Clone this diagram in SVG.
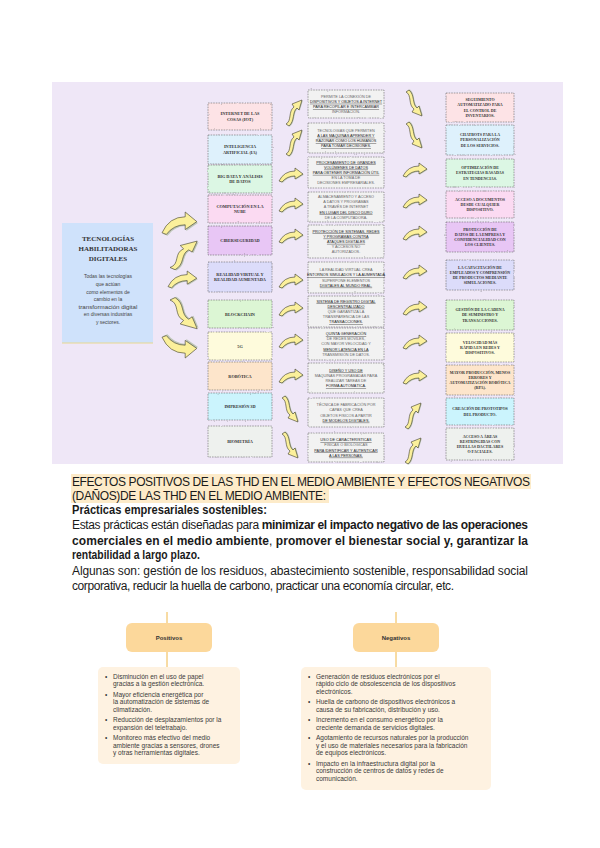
<svg xmlns="http://www.w3.org/2000/svg" width="600" height="848" viewBox="0 0 600 848">
<style>
.bx{stroke:#666;stroke-width:0.6;stroke-dasharray:1.6 1;filter:url(#wv)}
.c2{fill:#f2f2f2}
.t1{font-family:"Liberation Serif",serif;font-weight:bold;font-size:4.3px;fill:#333;text-anchor:middle}
.t2{font-family:"Liberation Sans",sans-serif;font-size:3.8px;fill:#666;text-anchor:middle}
.u{text-decoration:underline;fill:#222}
.t3{font-family:"Liberation Serif",serif;font-weight:bold;font-size:4px;fill:#333;text-anchor:middle}
.fg{fill:#fbf09b;stroke:#3a3a2a;stroke-width:0.6;vector-effect:non-scaling-stroke}
.sh{fill:#a8b79a;opacity:0.7}
.body{font-family:"Liberation Sans",Arial,sans-serif;font-size:12px;fill:#1a1a1a}
.li{font-family:"Liberation Sans",Arial,sans-serif;font-size:6.5px;fill:#3a3a3a}
.hd{font-family:"Liberation Sans",Arial,sans-serif;font-size:6px;font-weight:bold;fill:#333;text-anchor:middle}
.ln{stroke:#f0b848;stroke-width:1;fill:none}
</style>
<defs>
<filter id="wv" x="-10%" y="-15%" width="120%" height="130%">
<feTurbulence type="fractalNoise" baseFrequency="0.3" numOctaves="1" seed="4"/>
<feDisplacementMap in="SourceGraphic" scale="2.2" xChannelSelector="R" yChannelSelector="G"/>
</filter>
<g id="aR">
<path class="sh" transform="translate(0.8,0.8)" d="M0,13 Q5,3 16,3 L16,0 L24,6 L16,11 L16,8 Q8,8 3,14 Z"/>
<path class="fg" d="M0,13 Q5,3 16,3 L16,0 L24,6 L16,11 L16,8 Q8,8 3,14 Z"/>
</g>
<g id="aS">
<path class="sh" transform="translate(0.8,0.8)" d="M0,25 C6,22 2,12 8,8 L6,5 L16,1 L13,11 L11,9 C6,13 9,22 3,27 Z"/>
<path class="fg" d="M0,25 C6,22 2,12 8,8 L6,5 L16,1 L13,11 L11,9 C6,13 9,22 3,27 Z"/>
</g>
</defs>
<rect width="600" height="848" fill="#ffffff"/>
<rect x="52" y="82" width="511" height="382" fill="#efe7f7"/>

<g id="main-node">
<rect x="62" y="223" width="91" height="120" fill="#cfe2fb"/>
<line x1="62" y1="343" x2="153" y2="343" stroke="#e8d890" stroke-width="1.2"/>
<g font-family="Liberation Serif,serif" font-weight="bold" font-size="7px" fill="#333" text-anchor="middle">
<text x="108" y="241">TECNOLOGÍAS</text>
<text x="108" y="251">HABILITADORAS</text>
<text x="108" y="261">DIGITALES</text>
</g>
<g font-family="Liberation Sans,sans-serif" font-size="5px" fill="#444" text-anchor="middle">
<text x="108" y="278">Todas las tecnologías</text>
<text x="108" y="286">que actúan</text>
<text x="108" y="293.5">como elementos de</text>
<text x="108" y="301">cambio en la</text>
<text x="108" y="308.5" font-size="6.2px">transformación digital</text>
<text x="108" y="316">en diversas industrias</text>
<text x="108" y="323.5">y sectores.</text>
</g>
</g>

<g id="connectors">
<use href="#aR" transform="translate(162,212) scale(1.45,1.6)"/>
<use href="#aS" transform="translate(170,240) scale(1.7,1.1)"/>
<use href="#aR" transform="translate(168,271) scale(1.2,1.2)"/>
<use href="#aS" transform="translate(170,330) scale(1.7,-1.2)"/>
<use href="#aR" transform="translate(162,358) scale(1.45,-1.6)"/>

<use href="#aS" transform="translate(286,99)"/>
<use href="#aS" transform="translate(286,129)"/>
<use href="#aR" transform="translate(279,168)"/>
<use href="#aR" transform="translate(279,198)"/>
<use href="#aR" transform="translate(279,229)"/>
<use href="#aR" transform="translate(279,274)"/>
<use href="#aR" transform="translate(279,302)"/>
<use href="#aR" transform="translate(279,334)"/>
<use href="#aR" transform="translate(279,369)"/>
<use href="#aS" transform="translate(282,423) scale(1,-1)"/>
<use href="#aS" transform="translate(282,459) scale(1,-1)"/>

<use href="#aS" transform="translate(406,117) scale(1,-1)"/>
<use href="#aS" transform="translate(406,149) scale(1,-1)"/>
<use href="#aR" transform="translate(403,163)"/>
<use href="#aR" transform="translate(403,194)"/>
<use href="#aR" transform="translate(403,226)"/>
<use href="#aR" transform="translate(403,265)"/>
<use href="#aR" transform="translate(403,301)"/>
<use href="#aR" transform="translate(403,335)"/>
<use href="#aR" transform="translate(403,370)"/>
<use href="#aS" transform="translate(405,402)"/>
<use href="#aS" transform="translate(405,437)"/>

<line x1="167" y1="612" x2="167" y2="623" class="ln"/>
<line x1="167" y1="652" x2="167" y2="667" class="ln"/>
<line x1="396" y1="612" x2="396" y2="623" class="ln"/>
<line x1="396" y1="652" x2="396" y2="667" class="ln"/>
</g>

<!-- column 1 -->
<g id="c1-iot"><rect class="bx" x="208" y="103" width="64" height="27" fill="#fde3e6"/><text class="t1" x="240" y="115.3">INTERNET DE LAS</text><text class="t1" x="240" y="120.8">COSAS (IOT)</text></g>
<g id="c1-ia"><rect class="bx" x="208" y="135" width="64" height="29" fill="#def1fc"/><text class="t1" x="240" y="148.3">INTELIGENCIA</text><text class="t1" x="240" y="153.8">ARTIFICIAL (IA)</text></g>
<g id="c1-bigdata"><rect class="bx" x="208" y="165" width="64" height="28" fill="#dcf7e4"/><text class="t1" x="240" y="177.8">BIG DATA Y ANÁLISIS</text><text class="t1" x="240" y="183.3">DE DATOS</text></g>
<g id="c1-nube"><rect class="bx" x="208" y="195" width="64" height="28" fill="#fbdaf2"/><text class="t1" x="240" y="207.8">COMPUTACIÓN EN LA</text><text class="t1" x="240" y="213.3">NUBE</text></g>
<g id="c1-ciber"><rect class="bx" x="208" y="226" width="64" height="29" fill="#e8c6f5"/><text class="t1" x="240" y="242">CIBERSEGURIDAD</text></g>
<g id="c1-rv"><rect class="bx" x="208" y="262" width="64" height="30" fill="#dcdcfa"/><text class="t1" x="240" y="275.8">REALIDAD VIRTUAL Y</text><text class="t1" x="240" y="281.3">REALIDAD AUMENTADA</text></g>
<g id="c1-blockchain"><rect class="bx" x="208" y="300" width="64" height="28" fill="#dcf6d4"/><text class="t1" x="240" y="315.5">BLOCKCHAIN</text></g>
<g id="c1-5g"><rect class="bx" x="208" y="332" width="64" height="28" fill="#fefbdc"/><text class="t1" x="240" y="347.5">5G</text></g>
<g id="c1-robotica"><rect class="bx" x="208" y="362" width="64" height="28" fill="#fde5cb"/><text class="t1" x="240" y="377.5">ROBÓTICA</text></g>
<g id="c1-3d"><rect class="bx" x="208" y="393" width="64" height="27" fill="#cbf4fd"/><text class="t1" x="240" y="408">IMPRESIÓN 3D</text></g>
<g id="c1-biometria"><rect class="bx" x="208" y="426" width="64" height="31" fill="#eef1ee"/><text class="t1" x="240" y="443">BIOMETRÍA</text></g>

<!-- column 2 -->
<g id="c2-1"><rect class="bx c2" x="308" y="90" width="76" height="28"/>
<text class="t2" x="346" y="97.6">PERMITE LA CONEXIÓN DE</text><text class="t2 u" x="346" y="102.8">DISPOSITIVOS Y OBJETOS A INTERNET</text><text class="t2 u" x="346" y="108">PARA RECOPILAR E INTERCAMBIAR</text><text class="t2" x="346" y="113.2">INFORMACIÓN.</text></g>
<g id="c2-2"><rect class="bx c2" x="308" y="123" width="76" height="30"/>
<text class="t2" x="346" y="131.6">TECNOLOGÍAS QUE PERMITEN</text><text class="t2 u" x="346" y="136.8">A LAS MÁQUINAS APRENDER Y</text><text class="t2 u" x="346" y="142">RAZONAR COMO LOS HUMANOS</text><text class="t2 u" x="346" y="147.2">PARA TOMAR DECISIONES.</text></g>
<g id="c2-3"><rect class="bx c2" x="308" y="157" width="76" height="31"/>
<text class="t2 u" x="346" y="163.5">PROCESAMIENTO DE GRANDES</text><text class="t2 u" x="346" y="168.7">VOLÚMENES DE DATOS</text><text class="t2 u" x="346" y="173.9">PARA OBTENER INFORMACIÓN ÚTIL</text><text class="t2" x="346" y="179.1">EN LA TOMA DE</text><text class="t2" x="346" y="184.3">DECISIONES EMPRESARIALES.</text></g>
<g id="c2-4"><rect class="bx c2" x="308" y="192" width="76" height="30"/>
<text class="t2" x="346" y="198">ALMACENAMIENTO Y ACCESO</text><text class="t2" x="346" y="203.2">A DATOS Y PROGRAMAS</text><text class="t2" x="346" y="208.4">A TRAVÉS DE INTERNET</text><text class="t2 u" x="346" y="213.6">EN LUGAR DEL DISCO DURO</text><text class="t2" x="346" y="218.8">DE LA COMPUTADORA.</text></g>
<g id="c2-5"><rect class="bx c2" x="308" y="225" width="76" height="33"/>
<text class="t2 u" x="346" y="232.5">PROTECCIÓN DE SISTEMAS, REDES</text><text class="t2 u" x="346" y="237.7">Y PROGRAMAS CONTRA</text><text class="t2 u" x="346" y="242.9">ATAQUES DIGITALES</text><text class="t2" x="346" y="248.1">Y ACCESOS NO</text><text class="t2" x="346" y="253.3">AUTORIZADOS.</text></g>
<g id="c2-6"><rect class="bx c2" x="308" y="262" width="76" height="31"/>
<text class="t2" x="346" y="271.1">LA REALIDAD VIRTUAL CREA</text><text class="t2 u" x="346" y="276.3">ENTORNOS SIMULADOS Y LA AUMENTADA</text><text class="t2" x="346" y="281.5">SUPERPONE ELEMENTOS</text><text class="t2 u" x="346" y="286.7">DIGITALES AL MUNDO REAL.</text></g>
<g id="c2-7"><rect class="bx c2" x="308" y="296" width="76" height="31"/>
<text class="t2 u" x="346" y="302.5">SISTEMA DE REGISTRO DIGITAL</text><text class="t2 u" x="346" y="307.7">DESCENTRALIZADO</text><text class="t2" x="346" y="312.9">QUE GARANTIZA LA</text><text class="t2" x="346" y="318.1">TRANSPARENCIA DE LAS</text><text class="t2 u" x="346" y="323.3">TRANSACCIONES.</text></g>
<g id="c2-8"><rect class="bx c2" x="308" y="328" width="76" height="32"/>
<text class="t2 u" x="346" y="335">QUINTA GENERACIÓN</text><text class="t2" x="346" y="340.2">DE REDES MÓVILES,</text><text class="t2" x="346" y="345.4">CON MAYOR VELOCIDAD Y</text><text class="t2 u" x="346" y="350.6">MENOR LATENCIA EN LA</text><text class="t2" x="346" y="355.8">TRANSMISIÓN DE DATOS.</text></g>
<g id="c2-9"><rect class="bx c2" x="308" y="363" width="76" height="30"/>
<text class="t2 u" x="346" y="371.6">DISEÑO Y USO DE</text><text class="t2" x="346" y="376.8">MÁQUINAS PROGRAMADAS PARA</text><text class="t2" x="346" y="382">REALIZAR TAREAS DE</text><text class="t2 u" x="346" y="387.2">FORMA AUTOMÁTICA.</text></g>
<g id="c2-10"><rect class="bx c2" x="308" y="398" width="76" height="29"/>
<text class="t2" x="346" y="406.1">TÉCNICA DE FABRICACIÓN POR</text><text class="t2" x="346" y="411.3">CAPAS QUE CREA</text><text class="t2" x="346" y="416.5">OBJETOS FÍSICOS A PARTIR</text><text class="t2 u" x="346" y="421.7">DE MODELOS DIGITALES.</text></g>
<g id="c2-11"><rect class="bx c2" x="308" y="433" width="76" height="29"/>
<text class="t2 u" x="346" y="441.1">USO DE CARACTERÍSTICAS</text><text class="t2" x="346" y="446.3">FÍSICAS O BIOLÓGICAS</text><text class="t2 u" x="346" y="451.5">PARA IDENTIFICAR Y AUTENTICAR</text><text class="t2 u" x="346" y="456.7">A LAS PERSONAS.</text></g>

<!-- column 3 -->
<g id="c3-1"><rect class="bx" x="446" y="93" width="68" height="29" fill="#fde3e6"/>
<text class="t3" x="480" y="101">SEGUIMIENTO</text><text class="t3" x="480" y="106.3">AUTOMATIZADO PARA</text><text class="t3" x="480" y="111.6">EL CONTROL DE</text><text class="t3" x="480" y="116.9">INVENTARIOS.</text></g>
<g id="c3-2"><rect class="bx" x="446" y="125" width="68" height="30" fill="#def1fc"/>
<text class="t3" x="480" y="136.1">CHATBOTS PARA LA</text><text class="t3" x="480" y="141.4">PERSONALIZACIÓN</text><text class="t3" x="480" y="146.7">DE LOS SERVICIOS.</text></g>
<g id="c3-3"><rect class="bx" x="446" y="159" width="68" height="28" fill="#dcf7e4"/>
<text class="t3" x="480" y="169.1">OPTIMIZACIÓN DE</text><text class="t3" x="480" y="174.4">ESTRATEGIAS BASADAS</text><text class="t3" x="480" y="179.7">EN TENDENCIAS.</text></g>
<g id="c3-4"><rect class="bx" x="446" y="191" width="68" height="27" fill="#fbdaf2"/>
<text class="t3" x="480" y="200.6">ACCESO A DOCUMENTOS</text><text class="t3" x="480" y="205.9">DESDE CUALQUIER</text><text class="t3" x="480" y="211.2">DISPOSITIVO.</text></g>
<g id="c3-5"><rect class="bx" x="446" y="222" width="68" height="30" fill="#e8c6f5"/>
<text class="t3" x="480" y="230.5">PROTECCIÓN DE</text><text class="t3" x="480" y="235.8">DATOS DE LA EMPRESA Y</text><text class="t3" x="480" y="241.1">CONFIDENCIALIDAD CON</text><text class="t3" x="480" y="246.4">LOS CLIENTES.</text></g>
<g id="c3-6"><rect class="bx" x="446" y="260" width="68" height="30" fill="#dcdcfa"/>
<text class="t3" x="480" y="268.5">LA CAPACITACIÓN DE</text><text class="t3" x="480" y="273.8">EMPLEADOS Y COMPRENSIÓN</text><text class="t3" x="480" y="279.1">DE PRODUCTOS MEDIANTE</text><text class="t3" x="480" y="284.4">SIMULACIONES.</text></g>
<g id="c3-7"><rect class="bx" x="446" y="300" width="68" height="30" fill="#dcf6d4"/>
<text class="t3" x="480" y="311.1">GESTIÓN DE LA CADENA</text><text class="t3" x="480" y="316.4">DE SUMINISTRO Y</text><text class="t3" x="480" y="321.7">TRANSACCIONES.</text></g>
<g id="c3-8"><rect class="bx" x="446" y="333" width="68" height="29" fill="#fefbdc"/>
<text class="t3" x="480" y="343.6">VELOCIDAD MÁS</text><text class="t3" x="480" y="348.9">RÁPIDA EN REDES Y</text><text class="t3" x="480" y="354.2">DISPOSITIVOS.</text></g>
<g id="c3-9"><rect class="bx" x="446" y="365" width="68" height="30" fill="#fde5cb"/>
<text class="t3" x="480" y="373.5">MAYOR PRODUCCIÓN, MENOS</text><text class="t3" x="480" y="378.8">ERRORES Y</text><text class="t3" x="480" y="384.1">AUTOMATIZACIÓN ROBÓTICA</text><text class="t3" x="480" y="389.4">(RPA).</text></g>
<g id="c3-10"><rect class="bx" x="446" y="398" width="68" height="27" fill="#cbf4fd"/>
<text class="t3" x="480" y="410.2">CREACIÓN DE PROTOTIPOS</text><text class="t3" x="480" y="415.5">DEL PRODUCTO.</text></g>
<g id="c3-11"><rect class="bx" x="446" y="428" width="68" height="32" fill="#eef1ee"/>
<text class="t3" x="480" y="437.5">ACCESO A ÁREAS</text><text class="t3" x="480" y="442.8">RESTRINGIDAS CON</text><text class="t3" x="480" y="448.1">HUELLAS DACTILARES</text><text class="t3" x="480" y="453.4">O FACIALES.</text></g>

<!-- text section -->
<rect x="71" y="474" width="460" height="15" fill="#fdebc9"/>
<rect x="71" y="489" width="258" height="14" fill="#fdebc9"/>
<text class="body" x="72" y="485.5" font-size="11px" textLength="458" lengthAdjust="spacing">EFECTOS POSITIVOS DE LAS THD EN EL MEDIO AMBIENTE Y EFECTOS  NEGATIVOS</text>
<text class="body" x="72" y="500" font-size="11px" textLength="254" lengthAdjust="spacing">(DAÑOS)DE LAS THD EN EL MEDIO AMBIENTE:</text>
<text class="body" x="72" y="514" font-weight="bold" textLength="195" lengthAdjust="spacingAndGlyphs">Prácticas empresariales sostenibles:</text>
<text class="body" x="72" y="529" textLength="456" lengthAdjust="spacing">Estas prácticas están diseñadas para <tspan font-weight="bold">minimizar el impacto negativo de las operaciones</tspan></text>
<text class="body" x="72" y="545" textLength="456" lengthAdjust="spacing"><tspan font-weight="bold">comerciales en el medio ambiente</tspan>, <tspan font-weight="bold">promover el bienestar social y, garantizar la</tspan></text>
<text class="body" x="72" y="559" font-weight="bold" textLength="128" lengthAdjust="spacingAndGlyphs">rentabilidad a largo plazo.</text>
<text class="body" x="72" y="575" textLength="456" lengthAdjust="spacing">Algunas son: gestión de los residuos, abastecimiento sostenible, responsabilidad social</text>
<text class="body" x="72" y="590" textLength="382" lengthAdjust="spacing">corporativa, reducir la huella de carbono, practicar una economía circular, etc.</text>

<!-- bottom diagram -->
<g id="positivos">
<rect x="126" y="623" width="86" height="29" rx="6" fill="#fcd89b"/>
<text class="hd" x="169" y="639.5">Positivos</text>
</g>
<g id="negativos">
<rect x="353" y="623" width="86" height="29" rx="6" fill="#fcd89b"/>
<text class="hd" x="396" y="639.5">Negativos</text>
</g>
<g id="lista-positivos">
<rect x="98" y="667" width="142" height="97" rx="5" fill="#fef2e1"/>
<g class="li">
<text x="105" y="678.5">•</text><text x="113" y="678.5">Disminución en el uso de papel</text>
<text x="113" y="686">gracias a la gestión electrónica.</text>
<text x="105" y="696.5">•</text><text x="113" y="696.5">Mayor eficiencia energética por</text>
<text x="113" y="704">la automatización de sistemas de</text>
<text x="113" y="711.5">climatización.</text>
<text x="105" y="722">•</text><text x="113" y="722">Reducción de desplazamientos por la</text>
<text x="113" y="729.5">expansión del teletrabajo.</text>
<text x="105" y="740">•</text><text x="113" y="740">Monitoreo más efectivo del medio</text>
<text x="113" y="747.5">ambiente gracias a sensores, drones</text>
<text x="113" y="755">y otras herramientas digitales.</text>
</g>
</g>
<g id="lista-negativos">
<rect x="301" y="667" width="190" height="123" rx="5" fill="#fef2e1"/>
<g class="li">
<text x="308" y="678.5">•</text><text x="316" y="678.5">Generación de residuos electrónicos por el</text>
<text x="316" y="686">rápido ciclo de obsolescencia de los dispositivos</text>
<text x="316" y="693.5">electrónicos.</text>
<text x="308" y="704">•</text><text x="316" y="704">Huella de carbono de dispositivos electrónicos a</text>
<text x="316" y="711.5">causa de su fabricación, distribución y uso.</text>
<text x="308" y="722">•</text><text x="316" y="722">Incremento en el consumo energético por la</text>
<text x="316" y="729.5">creciente demanda de servicios digitales.</text>
<text x="308" y="740">•</text><text x="316" y="740">Agotamiento de recursos naturales por la producción</text>
<text x="316" y="747.5">y el uso de materiales necesarios para la fabricación</text>
<text x="316" y="755">de equipos electrónicos.</text>
<text x="308" y="765.5">•</text><text x="316" y="765.5">Impacto en la infraestructura digital por la</text>
<text x="316" y="773">construcción de centros de datos y redes de</text>
<text x="316" y="780.5">comunicación.</text>
</g>
</g>
</svg>
